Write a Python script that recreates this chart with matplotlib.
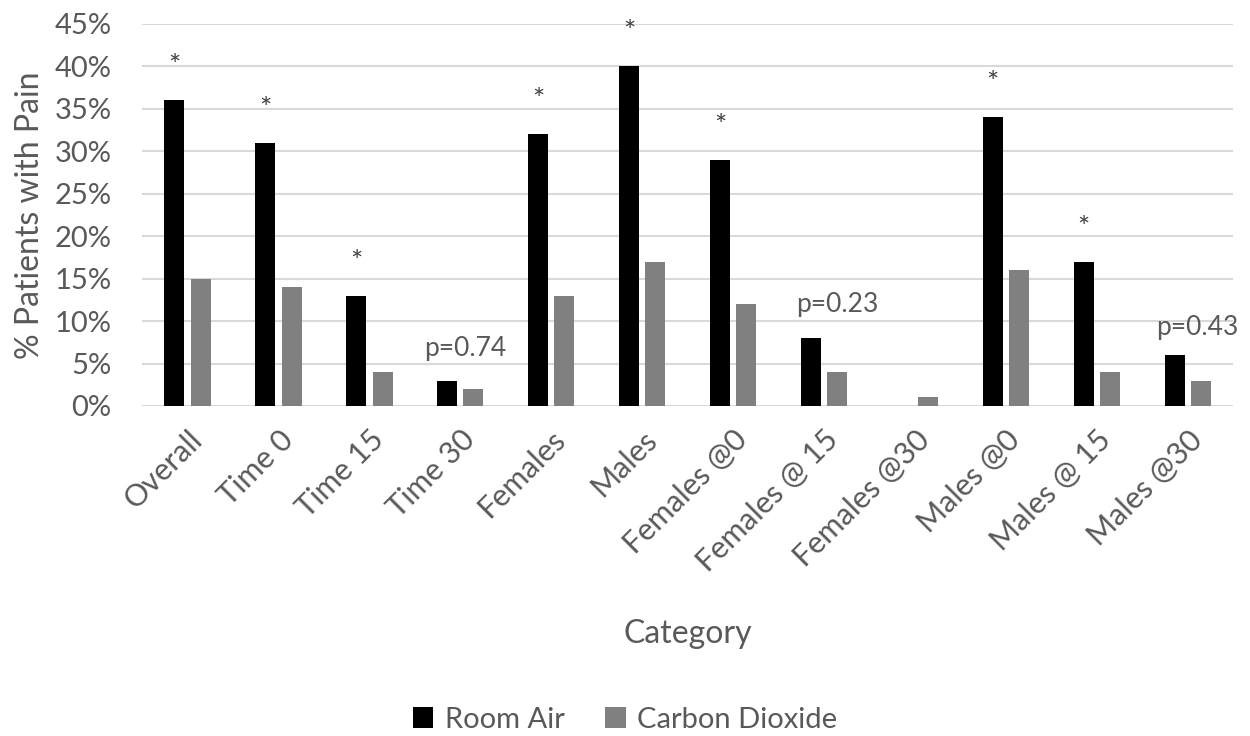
import matplotlib.pyplot as plt
import numpy as np

categories = ["Overall", "Time 0", "Time 15", "Time 30", "Females", "Males",
              "Females @0", "Females @ 15", "Females @30", "Males @0",
              "Males @ 15", "Males @30"]
room_air = [36, 31, 13, 3, 32, 40, 29, 8, 0, 34, 17, 6]
carbon_dioxide = [15, 14, 4, 2, 13, 17, 12, 4, 1, 16, 4, 3]
marks = ["*", "*", "*", "p=0.74", "*", "*", "*", "p=0.23", "", "*", "*", "p=0.43"]

plt.rcParams['font.family'] = ['Lato', 'DejaVu Sans']
text_color = "#595959"

fig = plt.figure(figsize=(12.5, 7.36), dpi=100)
ax = fig.add_axes([0.1136, 0.4484, 0.873, 0.519])

x = np.arange(len(categories))
w = 0.22
ax.bar(x - 0.145, room_air, w, color="black", label="Room Air", zorder=3)
ax.bar(x + 0.145, carbon_dioxide, w, color="#808080", label="Carbon Dioxide", zorder=3)

# p-value label placement (x shift, gap above bar)
p_pos = {3: (0.05, 3.8), 7: (0.15, 3.9), 11: (0.1, 3.3)}
for i, m in enumerate(marks):
    if m == "*":
        ax.text(x[i] - 0.145, room_air[i] + 3.9, m, ha="center", va="center",
                fontsize=21, color="#404040")
    elif m:
        top = max(room_air[i], carbon_dioxide[i])
        dx, dy = p_pos[i]
        ax.text(x[i] + dx, top + dy, m,
                ha="center", va="center", fontsize=19, color=text_color)

ax.set_xlim(-0.5, len(categories) - 0.5)
ax.set_ylim(0, 45)
ax.set_yticks(range(0, 46, 5))
ax.set_yticklabels([f"{v}%" for v in range(0, 46, 5)])
ax.set_xticks(x)
ax.set_xticklabels(categories, rotation=45, ha="right", rotation_mode="anchor")
ax.tick_params(axis="both", length=0, labelsize=21, labelcolor=text_color)
ax.tick_params(axis="x", pad=14, labelsize=22)
ax.tick_params(axis="y", pad=22)
ax.grid(axis="y", color="#d9d9d9", linewidth=1.5, zorder=0)
for s in ax.spines.values():
    s.set_visible(False)

ax.set_ylabel("% Patients with Pain", fontsize=23, color=text_color, labelpad=7)
ax.set_xlabel("Category", fontsize=23, color=text_color, labelpad=30)

fig.legend(loc="center", bbox_to_anchor=(0.5, 0.022), ncol=2, frameon=False,
           fontsize=21, labelcolor=text_color, handlelength=0.7, handleheight=0.7,
           columnspacing=1.4, handletextpad=0.4, borderpad=0.0)

fig.savefig("out.png", dpi=100)
